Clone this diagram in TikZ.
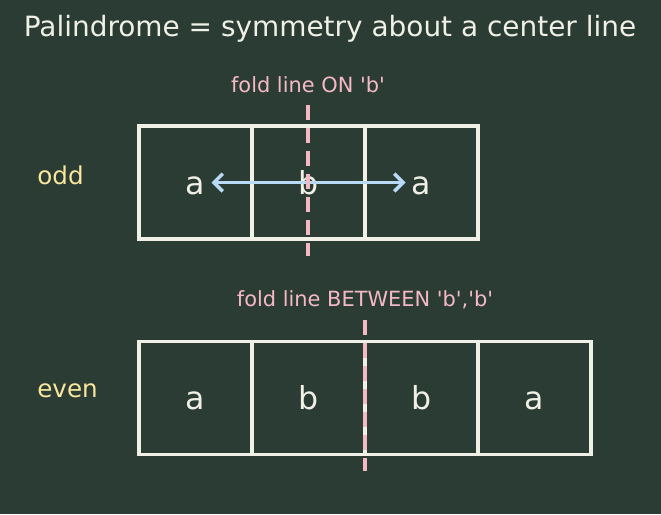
\documentclass[tikz,border=0pt]{standalone}
\usepackage{fontspec}
\setmainfont{DejaVu Sans}
\usetikzlibrary{arrows.meta}

\definecolor{boardbg}{HTML}{2B3C34}
\definecolor{chalk}{HTML}{F0F0E6}
\definecolor{foldpink}{HTML}{F4B8C6}
\definecolor{mirrorblue}{HTML}{B8DAF6}
\definecolor{tagyellow}{HTML}{F8E79C}

\tikzset{
	cell/.style={draw=chalk, line width=2.2pt, minimum size=2.26cm, inner sep=0pt, text=chalk, font=\fontsize{18}{20}\selectfont, text height=13.6pt, text depth=0pt},
	fold/.style={draw=foldpink, line width=2.2pt, dash pattern=on 0.3cm off 0.16cm},
	foldlabel/.style={text=foldpink, font=\fontsize{11.9}{14}\selectfont},
	tag/.style={text=tagyellow, font=\fontsize{14}{16}\selectfont, anchor=west, inner sep=0pt},
	mirror/.style={draw=mirrorblue, line width=2pt, {Straight Barb[length=5pt,width=10pt]}-{Straight Barb[length=5pt,width=10pt]}}
}

\begin{document}
\begin{tikzpicture}[x=0.02cm, y=-0.02cm]
			\fill[boardbg] (0, 0) rectangle (661, 514);
			\useasboundingbox (0, 0) rectangle (661, 514);

			\draw (330, 29) 	node[text=chalk, font=\fontsize{15.9}{18}\selectfont] 	(title) 	{Palindrome = symmetry about a center line};

			% odd length
			\draw (37, 175) 	node[tag] 	(odd) 		{odd};
			\draw (308, 85) 	node[foldlabel] 	(odd_fold) 	{fold line ON \textquotesingle b\textquotesingle};
			\draw (195.5, 182.5) 	node[cell] 	(o1) 	{a};
			\draw (308.5, 182.5) 	node[cell] 	(o2) 	{b};
			\draw (421.5, 182.5) 	node[cell] 	(o3) 	{a};
			\draw (308, 105) 	coordinate 	(odd_top);
			\draw (308, 256) 	coordinate 	(odd_bot);

			\draw[mirror, shorten <=16*0.02cm, shorten >=16*0.02cm] (o1.center) -- (o3.center);
			\draw[fold] (odd_top) -- (odd_bot);

			% even length
			\draw (37, 391) 	node[tag] 	(even) 		{even};
			\draw (365, 300) 	node[foldlabel] 	(even_fold) 	{fold line BETWEEN \textquotesingle b\textquotesingle,\textquotesingle b\textquotesingle};
			\draw (195.5, 398) 	node[cell] 	(e1) 	{a};
			\draw (308.5, 398) 	node[cell] 	(e2) 	{b};
			\draw (421.5, 398) 	node[cell] 	(e3) 	{b};
			\draw (534.5, 398) 	node[cell] 	(e4) 	{a};
			\draw (365, 320) 	coordinate 	(even_top);
			\draw (365, 471) 	coordinate 	(even_bot);

			\draw[fold] (even_top) -- (even_bot);
		\end{tikzpicture}
\end{document}
